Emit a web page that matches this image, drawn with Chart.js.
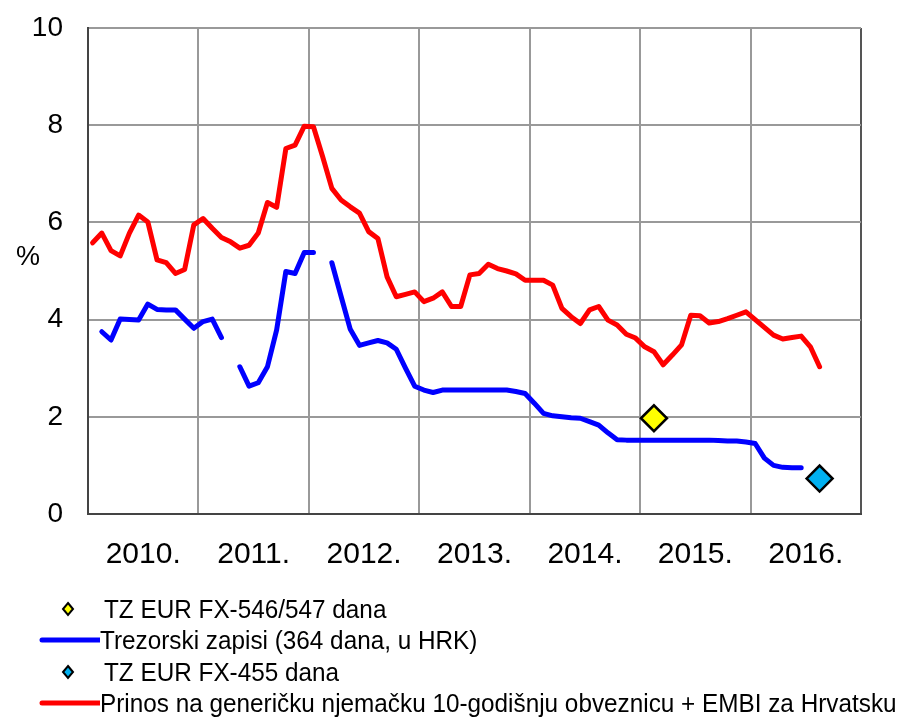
<!DOCTYPE html>
<html>
<head>
<meta charset="utf-8">
<script src="https://cdn.jsdelivr.net/npm/chart.js@4/dist/chart.umd.min.js"></script>
<style>
  html, body { margin: 0; padding: 0; background: #fff; }
  #wrap { position: relative; width: 897px; height: 718px; overflow: hidden; }
  #c { position: absolute; left: 0; top: 0; }
  .lg { position: absolute; left: 0; height: 30px; display: flex; align-items: center;
        font-family: 'Liberation Sans', Arial, sans-serif; font-size: 26px; color: #000; white-space: nowrap; }
  .lg .mk { width: 100px; height: 30px; position: relative; flex: none; }
  .lg span { display: inline-block; transform: scaleX(0.935); transform-origin: 0 50%; }
</style>
</head>
<body>
<div id="wrap">
  <canvas id="c" width="897" height="718"></canvas>
</div>
<script>
// ---- data (monthly, Jan 2010 = index 0) ----
const yearLabels = ['2010.', '2011.', '2012.', '2013.', '2014.', '2015.', '2016.'];
const yTicks = [0, 2, 4, 6, 8, 10];

// Prinos na generičku njemačku 10-godišnju obveznicu + EMBI za Hrvatsku
const redValues = [
  5.58, 5.78, 5.42, 5.31, 5.78, 6.15, 6.01, 5.23, 5.17, 4.95, 5.03, 5.95,
  6.08, 5.88, 5.69, 5.60, 5.47, 5.53, 5.78, 6.41, 6.31, 7.52, 7.59, 7.98,
  7.97, 7.35, 6.70, 6.46, 6.32, 6.19, 5.81, 5.67, 4.88, 4.47, 4.52, 4.57,
  4.37, 4.44, 4.57, 4.27, 4.27, 4.92, 4.95, 5.14, 5.05, 5.00, 4.94, 4.81,
  4.81, 4.81, 4.71, 4.23, 4.06, 3.92, 4.20, 4.27, 3.99, 3.89, 3.70, 3.62,
  3.44, 3.34, 3.07, 3.27, 3.48, 4.09, 4.08, 3.93, 3.96, 4.02, 4.09, 4.16,
  4.00, 3.84, 3.68, 3.60, 3.63, 3.66, 3.44, 3.03
];

// Trezorski zapisi (364 dana, u HRK)
const blueValues = [
  null, 3.75, 3.58, 4.01, 4.00, 3.99, 4.32, 4.21, 4.20, 4.20, 4.01, 3.82,
  3.96, 4.01, 3.63, null, 3.03, 2.63, 2.70, 3.03, 3.79, 4.99, 4.95, 5.38,
  5.38, null, 5.17, 4.48, 3.80, 3.47, 3.52, 3.57, 3.52, 3.39, 3.00, 2.63,
  2.55, 2.50, 2.55, 2.55, 2.55, 2.55, 2.55, 2.55, 2.55, 2.55, 2.52, 2.48,
  2.28, 2.07, 2.02, 2.00, 1.98, 1.97, 1.90, 1.83, 1.67, 1.53, 1.52, 1.52,
  1.52, 1.52, 1.52, 1.52, 1.52, 1.52, 1.52, 1.52, 1.51, 1.50, 1.50, 1.48,
  1.45, 1.15, 1.00, 0.96, 0.95, 0.95
];

// TZ EUR FX-546/547 dana (single issue)
const yellowMonth = [61];
const yellowValues = [1.97];
// TZ EUR FX-455 dana (single issue)
const cyanMonth = [79];
const cyanValues = [0.73];

const FONT = "'Liberation Sans', Arial, sans-serif";

function toXY(vals, start) {
  return vals.map((v, i) => ({ x: (start || 0) + i + 0.5, y: v }));
}
function toPts(months, vals) {
  return months.map((m, i) => ({ x: m + 0.5, y: vals[i] }));
}

const percentLabel = {
  id: 'percentLabel',
  afterDraw(chart) {
    const ctx = chart.ctx;
    ctx.save();
    ctx.font = '27px ' + FONT;
    ctx.fillStyle = '#000';
    ctx.textAlign = 'center';
    ctx.textBaseline = 'middle';
    ctx.fillText('%', 28, 258);
    ctx.restore();
  }
};

new Chart(document.getElementById('c'), {
  type: 'line',
  data: {
    datasets: [
      {
        label: 'TZ EUR FX-546/547 dana',
        data: toPts(yellowMonth, yellowValues),
        showLine: false,
        pointStyle: 'rectRot',
        pointRadius: 13,
        backgroundColor: '#ffff00',
        borderColor: '#000',
        pointBorderWidth: 2.5,
        order: 0
      },
      {
        label: 'Trezorski zapisi (364 dana, u HRK)',
        data: toXY(blueValues),
        borderColor: '#0000ff',
        borderWidth: 5,
        pointRadius: 0,
        tension: 0,
        spanGaps: false,
        borderCapStyle: 'round',
        borderJoinStyle: 'round',
        order: 2
      },
      {
        label: 'TZ EUR FX-455 dana',
        data: toPts(cyanMonth, cyanValues),
        showLine: false,
        pointStyle: 'rectRot',
        pointRadius: 13,
        backgroundColor: '#00b0f0',
        borderColor: '#000',
        pointBorderWidth: 2.5,
        order: 0
      },
      {
        label: 'Prinos na generičku njemačku 10-godišnju obveznicu + EMBI za Hrvatsku',
        data: toXY(redValues),
        borderColor: '#ff0000',
        borderWidth: 5,
        pointRadius: 0,
        tension: 0,
        borderCapStyle: 'round',
        borderJoinStyle: 'round',
        order: 1
      }
    ]
  },
  options: {
    responsive: false,
    animation: false,
    events: [],
    layout: { padding: { top: 28, right: 36, left: 0, bottom: 0 } },
    plugins: { legend: { display: false }, tooltip: { enabled: false } },
    scales: {
      x: {
        type: 'linear',
        min: 0,
        max: 84,
        afterBuildTicks(scale) {
          const t = [];
          for (let v = 0; v <= 84; v += 6) t.push({ value: v });
          scale.ticks = t;
        },
        afterFit(scale) {
          scale.height = 204;
          scale.paddingLeft = 0; scale.paddingRight = 0;
        },
        ticks: {
          autoSkip: false,
          maxRotation: 0,
          padding: 23,
          color: '#000',
          font: { family: FONT, size: 30 },
          callback(v) {
            if (v % 12 === 6) return yearLabels[(v - 6) / 12];
            return '';
          }
        },
        grid: {
          drawTicks: false,
          lineWidth: 2,
          color(ctx) {
            const v = ctx.tick ? ctx.tick.value : 0;
            if (v === 84) return '#555';
            return v % 12 === 0 ? '#999' : 'rgba(0,0,0,0)';
          }
        },
        border: { display: true, color: '#444', width: 2 }
      },
      y: {
        min: 0,
        max: 10,
        afterBuildTicks(scale) { scale.ticks = yTicks.map(v => ({ value: v })); },
        afterFit(scale) {
          scale.width = 88;
          scale.paddingTop = 0; scale.paddingBottom = 0;
        },
        ticks: {
          padding: 25,
          color: '#000',
          font: { family: FONT, size: 28 }
        },
        grid: { drawTicks: false, lineWidth: 2, color: '#999' },
        border: { display: true, color: '#444', width: 2 }
      }
    }
  },
  plugins: [percentLabel]
});

// ---- HTML legend ----
const legendItems = [
  { text: 'TZ EUR FX-546/547 dana', type: 'diamond', color: '#ffff00', y: 594 },
  { text: 'Trezorski zapisi (364 dana, u HRK)', type: 'line', color: '#0000ff', y: 625 },
  { text: 'TZ EUR FX-455 dana', type: 'diamond', color: '#00b0f0', y: 657 },
  { text: 'Prinos na generičku njemačku 10-godišnju obveznicu + EMBI za Hrvatsku', type: 'line', color: '#ff0000', y: 688 }
];
const wrap = document.getElementById('wrap');
legendItems.forEach(it => {
  const row = document.createElement('div');
  row.className = 'lg';
  row.style.top = it.y + 'px';
  const mk = document.createElement('div');
  mk.className = 'mk';
  if (it.type === 'line') {
    mk.innerHTML = '<svg width="100" height="30"><line x1="42" y1="15" x2="100" y2="15" stroke="' + it.color + '" stroke-width="5" stroke-linecap="round"/></svg>';
  } else {
    mk.style.width = '104px';
    mk.innerHTML = '<svg width="104" height="30"><polygon points="68,9 73,15 68,21 63,15" fill="' + it.color + '" stroke="#000" stroke-width="2"/></svg>';
  }
  row.appendChild(mk);
  const sp = document.createElement('span');
  sp.textContent = it.text;
  row.appendChild(sp);
  wrap.appendChild(row);
});
</script>
</body>
</html>
